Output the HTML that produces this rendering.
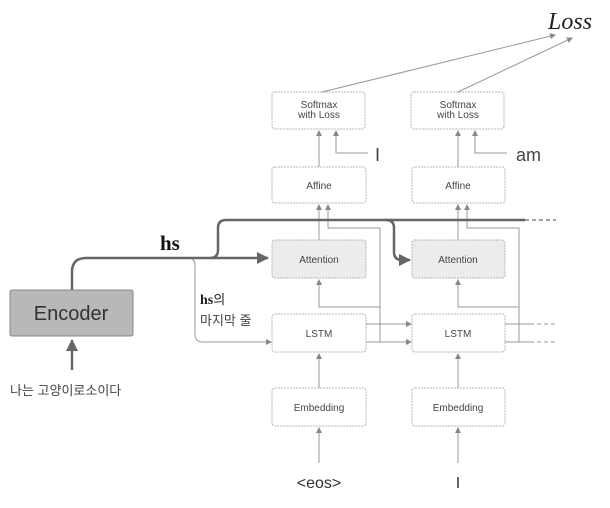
<!DOCTYPE html>
<html><head><meta charset="utf-8"><style>
html,body{margin:0;padding:0;background:#fff;}
svg{display:block;}
.s{font-family:"Liberation Sans","Noto Sans CJK KR",sans-serif;fill:#444;}
</style></head><body>
<svg width="610" height="508" viewBox="0 0 610 508" xmlns="http://www.w3.org/2000/svg">
<defs>
<marker id="a" markerWidth="6" markerHeight="6" refX="5" refY="3" orient="auto" markerUnits="userSpaceOnUse"><path d="M0,0 L6,3 L0,6 z" fill="#888"/></marker>
<marker id="b" markerWidth="12" markerHeight="12" refX="11" refY="6" orient="auto" markerUnits="userSpaceOnUse"><path d="M0,0 L12,6 L0,12 z" fill="#666"/></marker>
</defs>
<g fill="none" stroke="#b4b4b4" stroke-width="1" stroke-dasharray="2,1">
<rect x="272" y="92" width="93" height="37" rx="3" fill="#fff"/>
<rect x="411" y="92" width="93" height="37" rx="3" fill="#fff"/>
<rect x="272" y="167" width="94" height="36" rx="3" fill="#fff"/>
<rect x="412" y="167" width="93" height="36" rx="3" fill="#fff"/>
<rect x="272" y="240" width="94" height="38" rx="3" fill="#ececec"/>
<rect x="412" y="240" width="93" height="38" rx="3" fill="#ececec"/>
<rect x="272" y="314" width="94" height="38" rx="3" fill="#fff"/>
<rect x="412" y="314" width="93" height="38" rx="3" fill="#fff"/>
<rect x="272" y="388" width="94" height="38" rx="3" fill="#fff"/>
<rect x="412" y="388" width="93" height="38" rx="3" fill="#fff"/>
</g>
<rect x="10" y="290" width="123" height="46" rx="2" fill="#b8b8b8" stroke="#888"/>
<g fill="none" stroke="#999" stroke-width="1">
<line x1="322" y1="92" x2="555" y2="35" marker-end="url(#a)"/>
<line x1="458" y1="92" x2="572" y2="38" marker-end="url(#a)"/>
<line x1="319" y1="167" x2="319" y2="131" marker-end="url(#a)"/>
<path d="M368,153 H336 V131" marker-end="url(#a)"/>
<line x1="458" y1="167" x2="458" y2="131" marker-end="url(#a)"/>
<path d="M507,153 H475 V131" marker-end="url(#a)"/>
<line x1="319" y1="240" x2="319" y2="205" marker-end="url(#a)"/>
<path d="M380,342 V228 H328 V205" marker-end="url(#a)"/>
<path d="M380,307 H319 V280" marker-end="url(#a)"/>
<line x1="458" y1="240" x2="458" y2="205" marker-end="url(#a)"/>
<path d="M519,342 V228 H467 V205" marker-end="url(#a)"/>
<path d="M519,307 H458 V280" marker-end="url(#a)"/>
<line x1="366" y1="324" x2="411" y2="324" marker-end="url(#a)"/>
<line x1="366" y1="342" x2="411" y2="342" marker-end="url(#a)"/>
<line x1="505" y1="324" x2="530" y2="324"/>
<line x1="505" y1="342" x2="530" y2="342"/>
<line x1="530" y1="324" x2="556" y2="324" stroke-dasharray="4,3"/>
<line x1="530" y1="342" x2="556" y2="342" stroke-dasharray="4,3"/>
<line x1="319" y1="388" x2="319" y2="354" marker-end="url(#a)"/>
<line x1="458" y1="388" x2="458" y2="354" marker-end="url(#a)"/>
<line x1="319" y1="463" x2="319" y2="428" marker-end="url(#a)"/>
<line x1="458" y1="463" x2="458" y2="428" marker-end="url(#a)"/>
<path d="M188,258 Q195,258 195,266 V334 Q195,342 203,342 H271" marker-end="url(#a)"/>
</g>
<g fill="none" stroke="#666" stroke-width="2.5">
<path d="M72,290 V272 Q72,258 86,258 H268" marker-end="url(#b)"/>
<path d="M210,258 Q218,258 218,250 V228 Q218,220 226,220 H525"/>
<path d="M386,220 Q394,220 394,228 V252 Q394,260 402,260 H410" marker-end="url(#b)"/>
<line x1="525" y1="220" x2="556" y2="220" stroke-width="1.2" stroke-dasharray="4,3"/>
<line x1="72" y1="370" x2="72" y2="340" marker-end="url(#b)"/>
</g>
<g class="s" text-anchor="middle">
<text x="319" y="108" font-size="10">Softmax</text>
<text x="319" y="118" font-size="10">with Loss</text>
<text x="458" y="108" font-size="10">Softmax</text>
<text x="458" y="118" font-size="10">with Loss</text>
<text x="319" y="189" font-size="10">Affine</text>
<text x="458" y="189" font-size="10">Affine</text>
<text x="319" y="263" font-size="10">Attention</text>
<text x="458" y="263" font-size="10">Attention</text>
<text x="319" y="337" font-size="10">LSTM</text>
<text x="458" y="337" font-size="10">LSTM</text>
<text x="319" y="411" font-size="10">Embedding</text>
<text x="458" y="411" font-size="10">Embedding</text>
<text x="71" y="320" font-size="20" fill="#333">Encoder</text>
<text x="319" y="488" font-size="16" fill="#333">&lt;eos&gt;</text>
<text x="458" y="488" font-size="16" fill="#333">I</text>
</g>
<text x="375" y="161" class="s" font-size="18" fill="#222">I</text>
<text x="516" y="161" class="s" font-size="18" fill="#222">am</text>
<text x="548" y="29" font-family="Liberation Serif,serif" font-style="italic" font-size="24" fill="#222">Loss</text>
<text x="160" y="250" font-family="Liberation Serif,serif" font-weight="bold" font-size="21" fill="#111">hs</text>
<text x="200" y="304" font-size="13" fill="#222"><tspan font-family="Liberation Serif,serif" font-weight="bold" font-size="14">hs</tspan><tspan font-family="Liberation Sans,'Noto Sans CJK KR',sans-serif">의</tspan></text>
<text x="200" y="325" class="s" font-size="13" fill="#222">마지막 줄</text>
<text x="10" y="395" class="s" font-size="13" fill="#222">나는 고양이로소이다</text>
</svg>
</body></html>
